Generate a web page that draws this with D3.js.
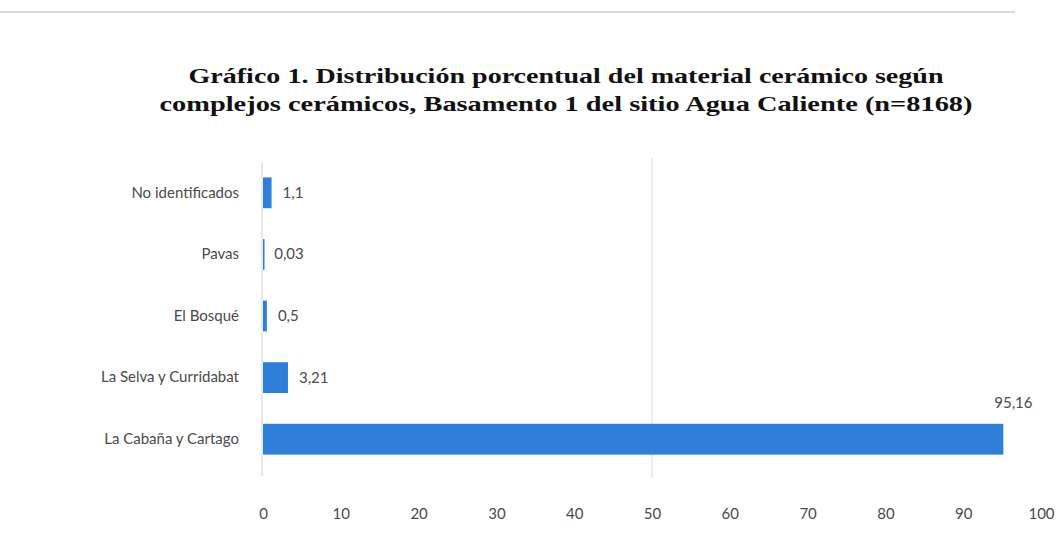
<!DOCTYPE html>
<html><head><meta charset="utf-8">
<script src="https://cdn.jsdelivr.net/npm/d3@7"></script>
<style>body{margin:0;background:#fff}</style>
</head><body>
<svg id="c" width="1060" height="541"></svg>
<script>
const categories = ["No identificados","Pavas","El Bosqué","La Selva y Curridabat","La Cabaña y Cartago"];
const values = [1.1, 0.03, 0.5, 3.21, 95.16];
const valueLabels = ["1,1","0,03","0,5","3,21","95,16"];
const xTicks = [0,10,20,30,40,50,60,70,80,90,100];
const titleLines = ["Gráfico 1. Distribución porcentual del material cerámico según","complejos cerámicos, Basamento 1 del sitio Agua Caliente (n=8168)"];
const titleWidths = [755, 813];

const svg = d3.select("#c");
svg.append("rect").attr("width",1060).attr("height",541).attr("fill","#fff");
svg.append("line").attr("x1",0).attr("x2",1015).attr("y1",12).attr("y2",12).attr("stroke","#cfcfcf").attr("stroke-width",1.5);

const x = d3.scaleLinear().domain([0,100]).range([263,1041]);
const y = d3.scaleBand().domain(categories).range([162,470]).paddingInner(0.5).paddingOuter(0.25);

// title
svg.selectAll("text.title").data(titleLines).join("text").attr("class","title")
  .attr("x",566).attr("y",(d,i)=>83+i*28).attr("text-anchor","middle")
  .attr("font-family","Liberation Serif").attr("font-weight","bold").attr("font-size",22)
  .attr("textLength",(d,i)=>titleWidths[i]).attr("lengthAdjust","spacingAndGlyphs")
  .attr("fill","#111").text(d=>d);

// gridline at 50
svg.append("line").attr("x1",x(50)).attr("x2",x(50)).attr("y1",158).attr("y2",478).attr("stroke","#d8d8d8");
// axis line
svg.append("line").attr("x1",x(0)-1).attr("x2",x(0)-1).attr("y1",162).attr("y2",476).attr("stroke","#d0d0d0");

// bars
svg.selectAll("rect.bar").data(values).join("rect").attr("class","bar")
  .attr("x",x(0)).attr("y",(d,i)=>y(categories[i]))
  .attr("width",d=>Math.max(1.5,x(d)-x(0))).attr("height",y.bandwidth())
  .attr("fill","#2e7fd8");

// value labels
svg.selectAll("text.val").data(values).join("text").attr("class","val")
  .attr("x",(d,i)=> d>90 ? x(d)+10 : x(d)+11)
  .attr("y",(d,i)=> d>90 ? y(categories[i])-16 : y(categories[i])+y.bandwidth()/2+5)
  .attr("text-anchor",d=>d>90?"middle":"start")
  .attr("font-family","Lato").attr("font-size",15).attr("fill","#4a4a4a")
  .text((d,i)=>valueLabels[i]);

// y axis labels
const yAxis = d3.axisLeft(y).tickSize(0).tickPadding(24);
const gy = svg.append("g").attr("transform",`translate(${x(0)},0)`).call(yAxis);
gy.select(".domain").remove();
gy.selectAll("text").attr("font-family","Lato").attr("font-size",15).attr("fill","#4a4a4a");

// x axis
const xAxis = d3.axisBottom(x).tickValues(xTicks).tickSize(0).tickPadding(0);
const gx = svg.append("g").attr("transform","translate(0,508)").call(xAxis);
gx.select(".domain").remove();
gx.selectAll("text").attr("font-family","Lato").attr("font-size",15).attr("fill","#4a4a4a");
</script>
</body></html>
